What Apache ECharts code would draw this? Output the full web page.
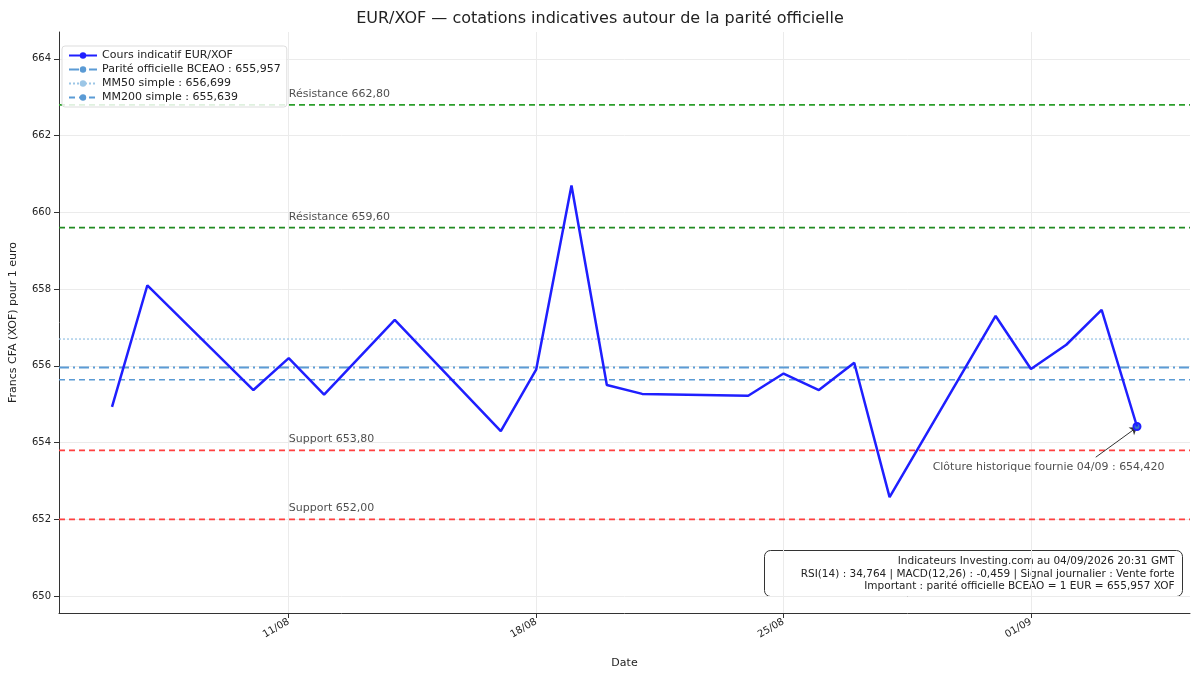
<!DOCTYPE html>
<html><head><meta charset="utf-8">
<script src="https://cdn.jsdelivr.net/npm/echarts@6/dist/echarts.min.js"></script>
<style>html,body{margin:0;background:#fff}#c{width:1200px;height:675px}</style>
</head><body><div id="c"></div>
<script>
const dates = ['2026-08-06','2026-08-07','2026-08-10','2026-08-11','2026-08-12','2026-08-14','2026-08-17','2026-08-18','2026-08-19','2026-08-20','2026-08-21','2026-08-24','2026-08-25','2026-08-26','2026-08-27','2026-08-28','2026-08-31','2026-09-01','2026-09-02','2026-09-03','2026-09-04'];
const values = [654.93,658.10,655.37,656.20,655.25,657.20,654.30,655.90,660.70,655.50,655.27,655.22,655.80,655.37,656.08,652.58,657.30,655.92,656.55,657.46,654.42];
const xTicks = ['2026-08-11','2026-08-18','2026-08-25','2026-09-01'];
const yTicks = [650,652,654,656,658,660,662,664];
const refLines = [
  {name:'Parité officielle BCEAO : 655,957', v:655.957, color:'#5b9bd5', type:[10,4,2,4], w:1.8},
  {name:'MM50 simple : 656,699', v:656.699, color:'#9cc6e6', type:[2,2], w:1.3},
  {name:'MM200 simple : 655,639', v:655.639, color:'#5b9bd5', type:[6,4], w:1.5}
];
const levels = [
  {label:'Résistance 662,80', v:662.80, color:'#2ca02c'},
  {label:'Résistance 659,60', v:659.60, color:'#228b22'},
  {label:'Support 653,80', v:653.80, color:'#ff4040'},
  {label:'Support 652,00', v:652.00, color:'#ff4040'}
];
const DAY = 86400e3;
const t = d => +new Date(d+'T00:00:00Z');
const xMin = t('2026-08-04') + DAY/2, xMax = t('2026-09-05') + DAY/2;
const series = [{
  name:'Cours indicatif EUR/XOF', type:'line', data:dates.map((d,i)=>[t(d),values[i]]),
  lineStyle:{color:'#1f1fff',width:2.5}, itemStyle:{color:'#1f1fff'}, symbol:'none', z:5,
  markPoint:{symbol:'circle',symbolSize:7,itemStyle:{color:'#3a78c8',borderColor:'#1f1fff'},label:{show:false},
    data:[{coord:[t('2026-09-04'),654.42]}]},
  markLine:{silent:true,symbol:['none','arrow'],symbolSize:7,lineStyle:{color:'#333',width:1,type:'solid'},
    label:{show:false},data:[[{coord:[t('2026-09-02')+20*3600e3,653.62]},{coord:[t('2026-09-04'),654.40]}]]}
}];
refLines.forEach(r=>series.push({name:r.name,type:'line',symbol:'none',data:[[xMin,r.v],[xMax,r.v]],
  lineStyle:{color:r.color,type:r.type,width:r.w},itemStyle:{color:r.color},z:3}));
levels.forEach(l=>series.push({type:'line',symbol:'none',data:[[xMin,l.v],[xMax,l.v]],
  lineStyle:{color:l.color,type:[6,4],width:1.8},itemStyle:{color:l.color},z:2}));
series.push({type:'scatter',symbolSize:0,data:levels.map(l=>[t('2026-08-11'),l.v+0.28,l.label]),
  label:{show:true,position:'right',distance:0,formatter:p=>p.data[2],color:'#222',fontSize:11}});
series.push({type:'scatter',symbolSize:0,data:[[t('2026-09-01')+12*3600e3,653.37,'Clôture historique fournie 04/09 : 654,420']],
  label:{show:true,position:'inside',formatter:p=>p.data[2],color:'#222',fontSize:11}});
const fmt = v=>{const d=new Date(v);return String(d.getUTCDate()).padStart(2,'0')+'/'+String(d.getUTCMonth()+1).padStart(2,'0');};
const chart = echarts.init(document.getElementById('c'));
chart.setOption({
  animation:false,
  textStyle:{fontFamily:'DejaVu Sans'},
  title:{text:'EUR/XOF — cotations indicatives autour de la parité officielle',left:'center',top:6,
    textStyle:{fontSize:16,fontWeight:'normal',color:'#222'}},
  grid:{left:58,right:10,top:32,bottom:62},
  legend:{left:62,top:46,orient:'vertical',itemGap:3,itemWidth:28,itemHeight:8,
    data:['Cours indicatif EUR/XOF',...refLines.map(r=>r.name)],
    backgroundColor:'rgba(255,255,255,0.85)',borderColor:'#ddd',borderWidth:1,borderRadius:3,padding:[4,6],
    textStyle:{fontSize:11,color:'#222'}},
  xAxis:{type:'value',min:xMin,max:xMax,name:'Date',nameLocation:'middle',nameGap:45,
    nameTextStyle:{fontSize:11,color:'#222'},
    axisLine:{lineStyle:{color:'#333'}},
    axisTick:{show:true,customValues:xTicks.map(t),lineStyle:{color:'#333'}},
    axisLabel:{customValues:xTicks.map(t),rotate:30,fontSize:10,color:'#222',formatter:fmt},
    splitLine:{show:true,lineStyle:{color:'#ebebeb'}}},
  yAxis:{type:'value',min:649.56,max:664.7,name:'Francs CFA (XOF) pour 1 euro',nameLocation:'middle',nameGap:40,
    nameTextStyle:{fontSize:11,color:'#222'},
    axisLine:{show:true,lineStyle:{color:'#333'}},
    axisTick:{show:true,customValues:yTicks,lineStyle:{color:'#333'}},
    axisLabel:{customValues:yTicks,fontSize:10,color:'#222'},
    splitLine:{show:true,lineStyle:{color:'#ebebeb'}}},
  graphic:[{type:'group',right:17,bottom:78,children:[
    {type:'rect',shape:{x:0,y:0,width:418,height:46,r:6},style:{fill:'#fff',stroke:'#333',lineWidth:1}},
    {type:'text',x:410,y:5,style:{text:'Indicateurs Investing.com au 04/09/2026 20:31 GMT\nRSI(14) : 34,764 | MACD(12,26) : -0,459 | Signal journalier : Vente forte\nImportant : parité officielle BCEAO = 1 EUR = 655,957 XOF',
      align:'right',fontSize:10.5,lineHeight:12.5,fill:'#222',fontFamily:'DejaVu Sans'}}]}],
  series
});
</script></body></html>
